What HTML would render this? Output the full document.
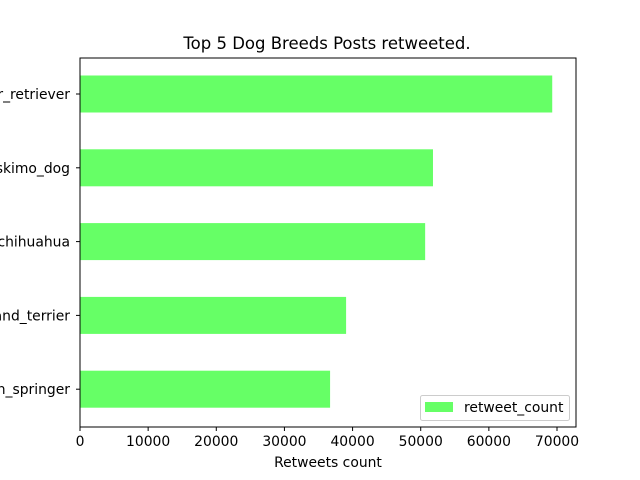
<!DOCTYPE html>
<html><head><meta charset="utf-8"><style>
html,body{margin:0;padding:0;background:#fff;width:640px;height:480px;overflow:hidden}
svg text{font-family:"DejaVu Sans",sans-serif;fill:#000}
</style></head><body>
<svg id="chart" width="640" height="480" xmlns="http://www.w3.org/2000/svg">
<text x="327" y="49" font-size="16.5" text-anchor="middle">Top 5 Dog Breeds Posts retweeted.</text>
<g id="bars"></g>
<g id="yticks"></g>
<g id="xticks"></g>
<rect x="80" y="58" width="496" height="369" fill="none" stroke="#000" stroke-width="1"/>
<text x="328" y="467" font-size="13.9" text-anchor="middle">Retweets count</text>
<g>
<rect x="420.5" y="395.5" width="149" height="25" rx="2" fill="#fff" fill-opacity="0.8" stroke="#ccc"/>
<rect x="425" y="402" width="28" height="10" fill="#66ff66"/>
<text x="464" y="412" font-size="13.9">retweet_count</text>
</g>
</svg>
<script>
const categories = ["labrador_retriever","eskimo_dog","chihuahua","lakeland_terrier","English_springer"];
const retweets = [69300, 51800, 50650, 39050, 36700];
const xTicks = [0,10000,20000,30000,40000,50000,60000,70000];
const NS="http://www.w3.org/2000/svg";
const x0=80, xScale=(557-80)/70000;
const X=v=>x0+v*xScale;
const Y=i=>94+i*73.8;
const bars=document.getElementById('bars'), yt=document.getElementById('yticks'), xt=document.getElementById('xticks');
function mk(tag,attrs,parent){const e=document.createElementNS(NS,tag);for(const k in attrs)e.setAttribute(k,attrs[k]);parent.appendChild(e);return e;}
categories.forEach((c,i)=>{
  const r=mk('rect',{x:X(0),y:Y(i)-18.5,width:X(retweets[i])-X(0),height:37,fill:'#66ff66'},bars);
  
  
  const l=mk('line',{x1:76,x2:80,y1:Y(i),y2:Y(i),stroke:'#000'},yt);
  
  
  const t=mk('text',{x:70,y:Y(i)+5,'font-size':13.9,'text-anchor':'end'},yt);
  t.textContent=c;
  
  
});
xTicks.forEach(v=>{
  const l=mk('line',{x1:X(v),x2:X(v),y1:427,y2:431,stroke:'#000'},xt);
  
  
  const t=mk('text',{x:X(v),y:446,'font-size':13.9,'text-anchor':'middle'},xt);
  t.textContent=v;
  
  
});
</script>
</body></html>
